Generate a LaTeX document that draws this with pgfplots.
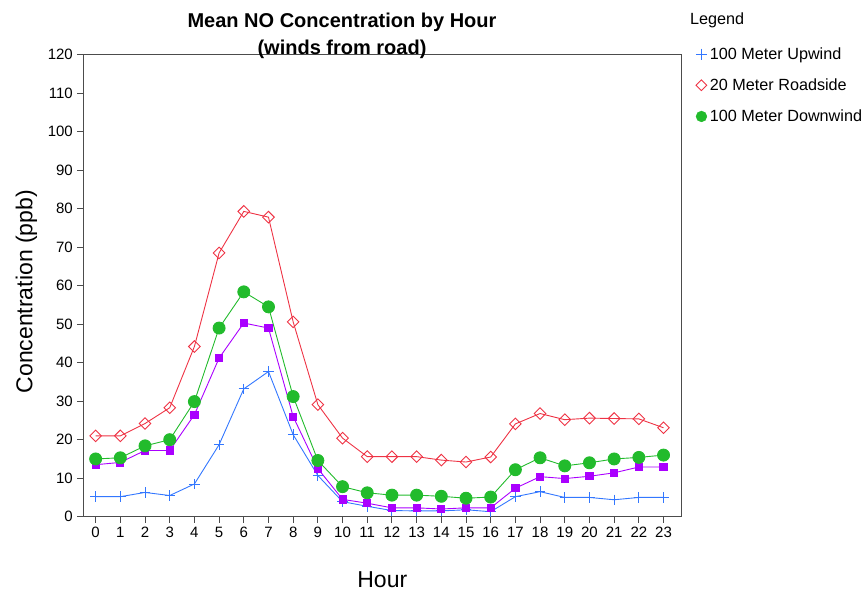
\documentclass[border=0pt]{standalone}
\usepackage{pgfplots}
\pgfplotsset{compat=1.18}
\usepackage{fontspec}
\setmainfont{Liberation Sans}

\definecolor{upblue}{RGB}{51,119,255}
\definecolor{roadred}{RGB}{238,51,68}
\definecolor{downgreen}{RGB}{34,187,44}
\definecolor{midpurple}{RGB}{170,0,255}

\pgfplotsset{markonly/.style={legend image code/.code={\path (0bp,0bp) (14bp,0bp);\draw[##1] plot coordinates {(7.5bp,0bp)};}}}

\begin{document}
\begin{tikzpicture}[x=1bp,y=1bp]
\begin{axis}[
    name=ax,
    at={(0,0)}, anchor=south west,
    scale only axis,
    width=598bp, height=462bp,
    xmin=-0.5, xmax=23.72,
    ymin=0, ymax=120,
    xtick={0,...,23},
    ytick={0,10,...,120},
    tick align=outside,
    major tick length=6bp,
    xtick pos=bottom, ytick pos=left,
    axis line style={black!70, line width=0.9pt},
    tick style={black!70, line width=0.9pt},
    ticklabel style={font=\fontsize{15bp}{18bp}\selectfont},
    /pgf/number format/assume math mode=true,
    xticklabel style={yshift=-1bp},
    yticklabel style={xshift=-1bp},
    legend style={draw=none, fill=none, at={(rel axis cs:1,1)}, anchor=north west,
        xshift=12bp, yshift=9bp,
        font=\fontsize{16.2bp}{18bp}\selectfont,
        row sep=15bp, inner sep=0pt, nodes={inner sep=1.5bp}},
    legend cell align=left,
    clip=false,
]
% 100 Meter Upwind
\addplot[upblue, line width=0.9pt, mark=+, mark size=5.2bp, forget plot] coordinates {
 (0,5.2)(1,5.2)(2,6.3)(3,5.5)(4,8.5)(5,18.7)(6,33.2)(7,37.7)(8,21.3)(9,10.7)
 (10,3.9)(11,2.7)(12,1.6)(13,1.5)(14,1.5)(15,1.8)(16,1.3)(17,5.2)(18,6.5)(19,5.0)
 (20,5.0)(21,4.4)(22,5.0)(23,5.0)};
% 20 Meter Roadside
\addplot[roadred, line width=0.9pt, mark=square, mark size=4.1bp, mark options={fill=white, rotate=45}, forget plot] coordinates {
 (0,21.0)(1,21.0)(2,24.2)(3,28.3)(4,44.2)(5,68.5)(6,79.3)(7,77.8)(8,50.6)(9,29.1)
 (10,20.4)(11,15.6)(12,15.6)(13,15.6)(14,14.7)(15,14.2)(16,15.5)(17,24.1)(18,26.8)(19,25.2)
 (20,25.6)(21,25.5)(22,25.4)(23,23.1)};
% middle series
\addplot[midpurple, line width=0.9pt, mark=square*, mark size=3.6bp, forget plot] coordinates {
 (0,13.5)(1,14.1)(2,17.2)(3,17.2)(4,26.5)(5,41.2)(6,50.3)(7,49.0)(8,26.0)(9,12.5)
 (10,4.5)(11,3.5)(12,2.3)(13,2.3)(14,2.0)(15,2.3)(16,2.3)(17,7.4)(18,10.4)(19,9.9)
 (20,10.5)(21,11.4)(22,12.9)(23,12.9)};
% 100 Meter Downwind
\addplot[downgreen, line width=0.9pt, mark=*, mark size=6bp, forget plot] coordinates {
 (0,15.0)(1,15.3)(2,18.4)(3,20.0)(4,29.9)(5,49.0)(6,58.4)(7,54.5)(8,31.2)(9,14.6)
 (10,7.8)(11,6.2)(12,5.6)(13,5.6)(14,5.3)(15,4.8)(16,5.1)(17,12.2)(18,15.3)(19,13.2)
 (20,14.0)(21,15.0)(22,15.4)(23,16.0)};
\addlegendimage{markonly, only marks, upblue, line width=0.9pt, mark=+, mark size=5.5bp}
\addlegendentry{100 Meter Upwind}
\addlegendimage{markonly, only marks, roadred, line width=0.9pt, mark=square, mark size=3.8bp, mark options={rotate=45}}
\addlegendentry{20 Meter Roadside}
\addlegendimage{markonly, only marks, downgreen, mark=*, mark size=5.4bp}
\addlegendentry{100 Meter Downwind}
\end{axis}
\node[anchor=base, font=\bfseries\fontsize{20bp}{23bp}\selectfont, inner sep=0pt] at (258.7,489) {Mean NO Concentration by Hour};
\node[anchor=base, font=\bfseries\fontsize{20bp}{23bp}\selectfont, inner sep=0pt] at (258.7,462) {(winds from road)};
\node[anchor=base west, font=\fontsize{16.2bp}{18bp}\selectfont, inner sep=0pt] at (606.7,491.7) {Legend};
\node[anchor=base, font=\fontsize{23bp}{27bp}\selectfont, inner sep=0pt] at (299,-71.3) {Hour};
\node[anchor=base, rotate=90, font=\fontsize{23bp}{27bp}\selectfont, inner sep=0pt] at (-51,225) {Concentration (ppb)};
\pgfresetboundingbox
\path[use as bounding box] (-83.3,-79.3) rectangle (783.7,516.7);
\end{tikzpicture}
\end{document}
